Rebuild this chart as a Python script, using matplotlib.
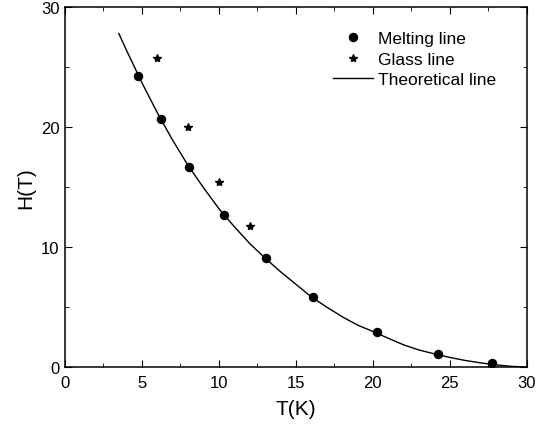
import matplotlib
matplotlib.use('Agg')
import matplotlib.pyplot as plt
from matplotlib.ticker import MultipleLocator

plt.rcParams['font.family'] = ['Liberation Sans', 'DejaVu Sans']

# melting line points
melt_T = [4.76, 6.25, 8.07, 10.32, 13.03, 16.08, 20.24, 24.2, 27.75]
melt_H = [24.25, 20.67, 16.64, 12.7, 9.06, 5.8, 2.89, 1.08, 0.3]

# glass line points
glass_T = [5.99, 8.0, 10.0, 12.0]
glass_H = [25.75, 19.97, 15.44, 11.78]

# theoretical line
theo_T = [3.5, 4, 5, 6, 7, 8, 9, 10, 11, 12, 13, 14, 15, 16, 17, 18, 19, 20,
          21, 22, 23, 24, 25, 26, 27, 28, 29, 30]
theo_H = [27.8, 26.4, 23.7, 21.2, 18.9, 16.8, 14.95, 13.2, 11.7, 10.3, 9.08, 7.95, 6.9,
          5.85, 5.0, 4.2, 3.5, 2.97, 2.4, 1.85, 1.42, 1.1, 0.8, 0.55, 0.35, 0.18, 0.06, 0.0]

fig = plt.figure(figsize=(5.5, 4.27), dpi=100)
ax = fig.add_axes([0.118, 0.138, 0.840, 0.843])

ax.plot(melt_T, melt_H, 'o', color='black', markersize=5.8, label='Melting line')
ax.plot(glass_T, glass_H, '*', color='black', markersize=6, label='Glass line')
ax.plot(theo_T, theo_H, '-', color='black', linewidth=1.0, label='Theoretical line')

ax.set_xlim(0, 30)
ax.set_ylim(0, 30)
ax.xaxis.set_major_locator(MultipleLocator(5))
ax.xaxis.set_minor_locator(MultipleLocator(2.5))
ax.yaxis.set_major_locator(MultipleLocator(10))
ax.yaxis.set_minor_locator(MultipleLocator(5))
ax.tick_params(which='both', direction='in', top=True, right=True, labelsize=12)
ax.tick_params(axis='x', which='major', pad=5.5)
ax.tick_params(axis='y', which='major', pad=4)
ax.tick_params(which='major', length=5)
ax.tick_params(which='minor', length=3)
for s in ax.spines.values():
    s.set_linewidth(1.1)

ax.set_xlabel('T(K)', fontsize=15, labelpad=7)
ax.set_ylabel('H(T)', fontsize=15, labelpad=4)

ax.legend(loc='upper left', bbox_to_anchor=(0.561, 0.957), frameon=False, fontsize=12.5,
          borderpad=0, handlelength=2.3, handletextpad=0.3, labelspacing=0.3)

fig.savefig('out.png', dpi=100)
